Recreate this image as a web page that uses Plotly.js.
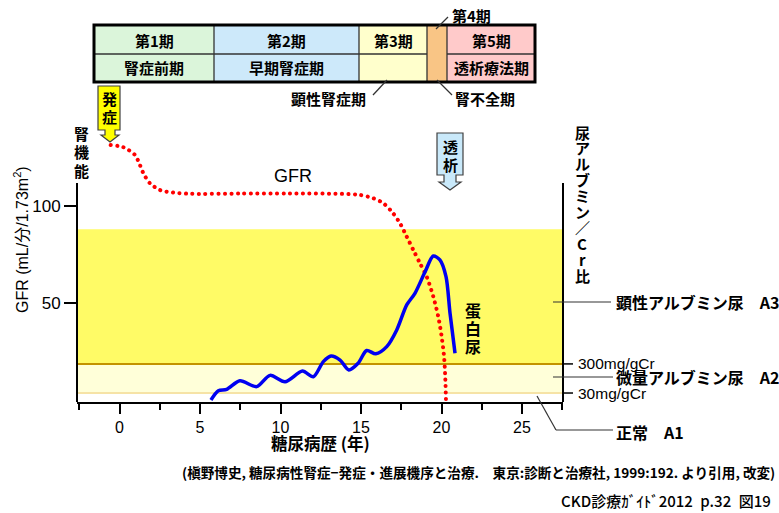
<!DOCTYPE html>
<html><head><meta charset="utf-8">
<script src="https://cdn.plot.ly/plotly-3.0.1.min.js"></script>
<style>html,body{margin:0;padding:0;background:#fff;}#chart{width:779px;height:513px;}</style>
</head><body><div id="chart"></div>
<script>
// ---------- data ----------
const gfrYears  = [-0.55, 0.24, 0.96, 1.27, 1.48, 1.89, 2.52, 3.34, 4.38, 7.5, 10.6, 14.1, 14.94, 15.76, 16.39, 17.0, 17.42, 17.84, 18.25, 18.66, 19.08, 19.49, 19.8, 20.01, 20.16, 20.24, 20.28];
const gfrValues = [131.4, 130.3, 126.3, 121.1, 116.9, 111.7, 108.2, 106.9, 106.3, 106.4, 106.5, 106.2, 105.7, 104.0, 101.4, 96.2, 91.1, 84.2, 77.3, 70.5, 63.6, 53.3, 42.9, 32.6, 22.3, 10.3, -1.0];
const proteinYears  = [5.68, 6.14, 6.66, 7.48, 8.52, 9.35, 10.28, 11.36, 12.04, 12.66, 13.14, 13.7, 14.24, 14.82, 15.35, 15.92, 16.6, 17.22, 17.84, 18.35, 18.98, 19.49, 19.9, 20.28, 20.53, 20.84];
const proteinValues = [0, 4.8, 5.5, 9.9, 6.9, 12.7, 9.4, 14.9, 12.0, 19.8, 22.7, 20.6, 15.5, 18.9, 25.5, 23.8, 27.5, 36.1, 49.0, 55.0, 66.1, 74.2, 72.2, 63.6, 44.7, 24.1];
const xTickVals = [0, 5, 10, 15, 20, 25];
const yTickVals = [50, 100];
const microLevel = 3.6;    // 30mg/gCr
const macroLevel = 18.6;   // 300mg/gCr
const macroTopLevel = 88;
const stageNames  = ['第1期', '第2期', '第3期', '', '第5期'];
const stageLabels = ['腎症前期', '早期腎症期', '', '', '透析療法期'];
const albuminLabels = ['顕性アルブミン尿\u3000A3', '微量アルブミン尿\u3000A2', '正常\u3000A1'];
const thresholdLabels = ['300mg/gCr', '30mg/gCr'];

// ---------- layout calibration ----------
const W = 779, H = 513, L = 77, R = 563, T = 130, B = 402;
const X0PX = 119.5, PXPERYEAR = 16.1, Y0PX = 400, PXPERUNIT = 1.94;
const xRange = [(L - X0PX) / PXPERYEAR, (R - X0PX) / PXPERYEAR];
const yRange = [(Y0PX - B) / PXPERUNIT, (Y0PX - T) / PXPERUNIT];
const px = X => (X - L) / (R - L);
const py = Y => (B - Y) / (B - T);
const vy = Y => (Y0PX - Y) / PXPERUNIT;

const JP = '"Noto Sans CJK JP", "Noto Sans", sans-serif';
const AR = '"Liberation Sans", Arial, "Noto Sans CJK JP", sans-serif';

const shapes = [];
const annotations = [];
function line(x0, y0, x1, y1, color, width) {
  shapes.push({type: 'line', xref: 'paper', yref: 'paper', x0: px(x0), y0: py(y0), x1: px(x1), y1: py(y1), line: {color: color, width: width}});
}
function txt(text, X, Y, size, opts) {
  opts = opts || {};
  annotations.push({
    text: text, x: px(X), y: py(Y), xref: 'paper', yref: 'paper', showarrow: false,
    xanchor: opts.xanchor || 'center', yanchor: 'middle', textangle: opts.angle || 0,
    font: {family: opts.family || JP, size: size, color: '#000', weight: opts.weight === undefined ? 700 : opts.weight}
  });
}
function vtext(str, cx, y0, step, size) {
  Array.from(str).forEach((c, i) => txt(c, cx, y0 + i * step, size));
}
function pathPx(points) {
  return 'M ' + points.map(p => px(p[0]) + ' ' + py(p[1])).join(' L ') + ' Z';
}

// bands
shapes.push({type: 'rect', xref: 'paper', yref: 'y', x0: 0, x1: 1, y0: macroLevel, y1: macroTopLevel, fillcolor: '#FFFB66', line: {width: 0}, layer: 'below'});
shapes.push({type: 'rect', xref: 'paper', yref: 'y', x0: 0, x1: 1, y0: microLevel, y1: macroLevel, fillcolor: '#FFFFD9', line: {width: 0}, layer: 'below'});
shapes.push({type: 'line', xref: 'paper', yref: 'y', x0: 0, x1: 1, y0: microLevel, y1: microLevel, line: {color: '#F6E3A6', width: 2}, layer: 'below'});
shapes.push({type: 'line', xref: 'paper', yref: 'y', x0: 0, x1: 1, y0: macroLevel, y1: macroLevel, line: {color: '#C39300', width: 2}, layer: 'below'});
// left & right axis lines
shapes.push({type: 'line', xref: 'paper', yref: 'y', x0: 0, x1: 0, y0: vy(183), y1: yRange[0], line: {color: '#000', width: 2}});
shapes.push({type: 'line', xref: 'paper', yref: 'y', x0: 1, x1: 1, y0: vy(183), y1: yRange[0], line: {color: '#000', width: 2}});
// right-axis ticks
[macroLevel, microLevel].forEach(v => {
  shapes.push({type: 'line', xref: 'paper', yref: 'y', x0: 1, x1: px(573), y0: v, y1: v, line: {color: '#000', width: 1.5}});
});
// albumin leader lines
line(553, 302, 611, 302, '#333', 1.2);
line(553, 377, 613, 377, '#333', 1.2);
line(537, 396, 556, 430, '#333', 1.2);
line(556, 430, 613, 430, '#333', 1.2);

// stage table
const colX = [94, 214, 359, 427, 447, 535];
const stageColors = ['#DBF5DA', '#CDE9FA', '#FFFFCC', '#F9C585', '#FFCACA'];
const rowY = [25, 54, 82];
for (let i = 0; i < 5; i++) {
  shapes.push({type: 'rect', xref: 'paper', yref: 'paper', x0: px(colX[i]), x1: px(colX[i + 1]), y0: py(rowY[0]), y1: py(rowY[2]), fillcolor: stageColors[i], line: {width: 0}});
  if (i !== 3) line(colX[i], rowY[1], colX[i + 1], rowY[1], '#333', 1.3);
  if (i > 0) line(colX[i], rowY[0], colX[i], rowY[2], '#333', 1.3);
  if (stageNames[i]) txt(stageNames[i], (colX[i] + colX[i + 1]) / 2, 40, 15);
  if (stageLabels[i]) txt(stageLabels[i], (colX[i] + colX[i + 1]) / 2, 68, 15);
}
shapes.push({type: 'rect', xref: 'paper', yref: 'paper', x0: px(colX[0]), x1: px(colX[5]), y0: py(rowY[0]), y1: py(rowY[2]), line: {color: '#000', width: 3}});
line(436, 29, 448, 17, '#333', 1.3);
line(373, 95, 387, 80, '#333', 1.3);
line(437, 80, 452, 95, '#333', 1.3);
txt('第4期', 450, 16, 15, {xanchor: 'left'});
txt('顕性腎症期', 368, 99, 15, {xanchor: 'right'});
txt('腎不全期', 453, 99, 15, {xanchor: 'left'});

// arrows
shapes.push({type: 'path', xref: 'paper', yref: 'paper', fillcolor: '#FFFF00', line: {color: '#404040', width: 1.2},
  path: pathPx([[98, 86], [120, 86], [120, 130], [115, 130], [115, 135], [119, 135], [110, 142], [101, 135], [105, 135], [105, 130], [98, 130]])});
shapes.push({type: 'path', xref: 'paper', yref: 'paper', fillcolor: '#C9E9FA', line: {color: '#404040', width: 1.2},
  path: pathPx([[437, 133], [463, 133], [463, 175], [456, 175], [456, 182], [461, 182], [450, 190], [439, 182], [444, 182], [444, 175], [437, 175]])});
vtext('発症', 109, 99, 17.5, 15);
vtext('透析', 450, 146, 18, 15);

// other texts
vtext('腎機能', 81, 133, 18.5, 15);
vtext('蛋白尿', 473, 310, 18, 16);
vtext('尿アルブミン／Cr比', 582, 132, 15.9, 15);
txt('GFR', 293, 176, 18, {family: AR, weight: 400});
txt('GFR (mL/分/1.73m<sup>2</sup>)', 21, 240, 16, {family: AR, weight: 400, angle: -90});
txt('糖尿病歴 (年)', 320, 443, 16.5);
txt(albuminLabels[0], 614, 302, 16, {xanchor: 'left'});
txt(albuminLabels[1], 614, 377, 16, {xanchor: 'left'});
txt(albuminLabels[2], 614, 432, 16, {xanchor: 'left'});
txt(thresholdLabels[0], 576, 363, 15.5, {xanchor: 'left', family: AR, weight: 400});
txt(thresholdLabels[1], 576, 393, 15.5, {xanchor: 'left', family: AR, weight: 400});
txt('(槇野博史, 糖尿病性腎症−発症・進展機序と治療.\u3000東京:診断と治療社, 1999:192. より引用, 改変)', 777, 472, 13.6, {xanchor: 'right'});
txt('CKD診療ｶﾞｲﾄﾞ2012\u2002p.32\u2002図19', 773, 500, 15, {xanchor: 'right', weight: 500});

const traces = [
  {x: gfrYears, y: gfrValues, type: 'scatter', mode: 'lines', line: {color: '#FF0000', width: 4, dash: 'dot', shape: 'spline', smoothing: 0.8}, hoverinfo: 'skip'},
  {x: proteinYears, y: proteinValues, type: 'scatter', mode: 'lines', line: {color: '#0000F0', width: 3.5, shape: 'spline', smoothing: 0.8}, hoverinfo: 'skip'}
];

const layout = {
  width: W, height: H, margin: {l: L, r: W - R, t: T, b: H - B, pad: 0},
  paper_bgcolor: '#fff', plot_bgcolor: '#fff', showlegend: false, hovermode: false,
  xaxis: {range: xRange, tickvals: xTickVals, ticks: 'outside', ticklen: 10, tickwidth: 2, tickcolor: '#000',
    minor: {dtick: 2.5, tick0: 0, ticks: 'outside', ticklen: 6, tickwidth: 2, tickcolor: '#000'},
    showline: true, linewidth: 2, linecolor: '#000', showgrid: false, zeroline: false,
    tickfont: {family: AR, size: 16, color: '#000'}},
  yaxis: {range: yRange, tickvals: yTickVals, ticks: 'outside', ticklen: 12, tickwidth: 2, tickcolor: '#000',
    showline: false, showgrid: false, zeroline: false,
    tickfont: {family: AR, size: 17, color: '#000'}},
  shapes: shapes, annotations: annotations
};
Plotly.newPlot('chart', traces, layout, {displayModeBar: false, staticPlot: true}).then(gd => {
  const gfrPath = gd.querySelector('.scatterlayer .trace path.js-line');
  if (gfrPath) {
    gfrPath.style.strokeLinecap = 'round';
    gfrPath.style.strokeDasharray = '0.1px, 6.4px';
  }
});
</script></body></html>
